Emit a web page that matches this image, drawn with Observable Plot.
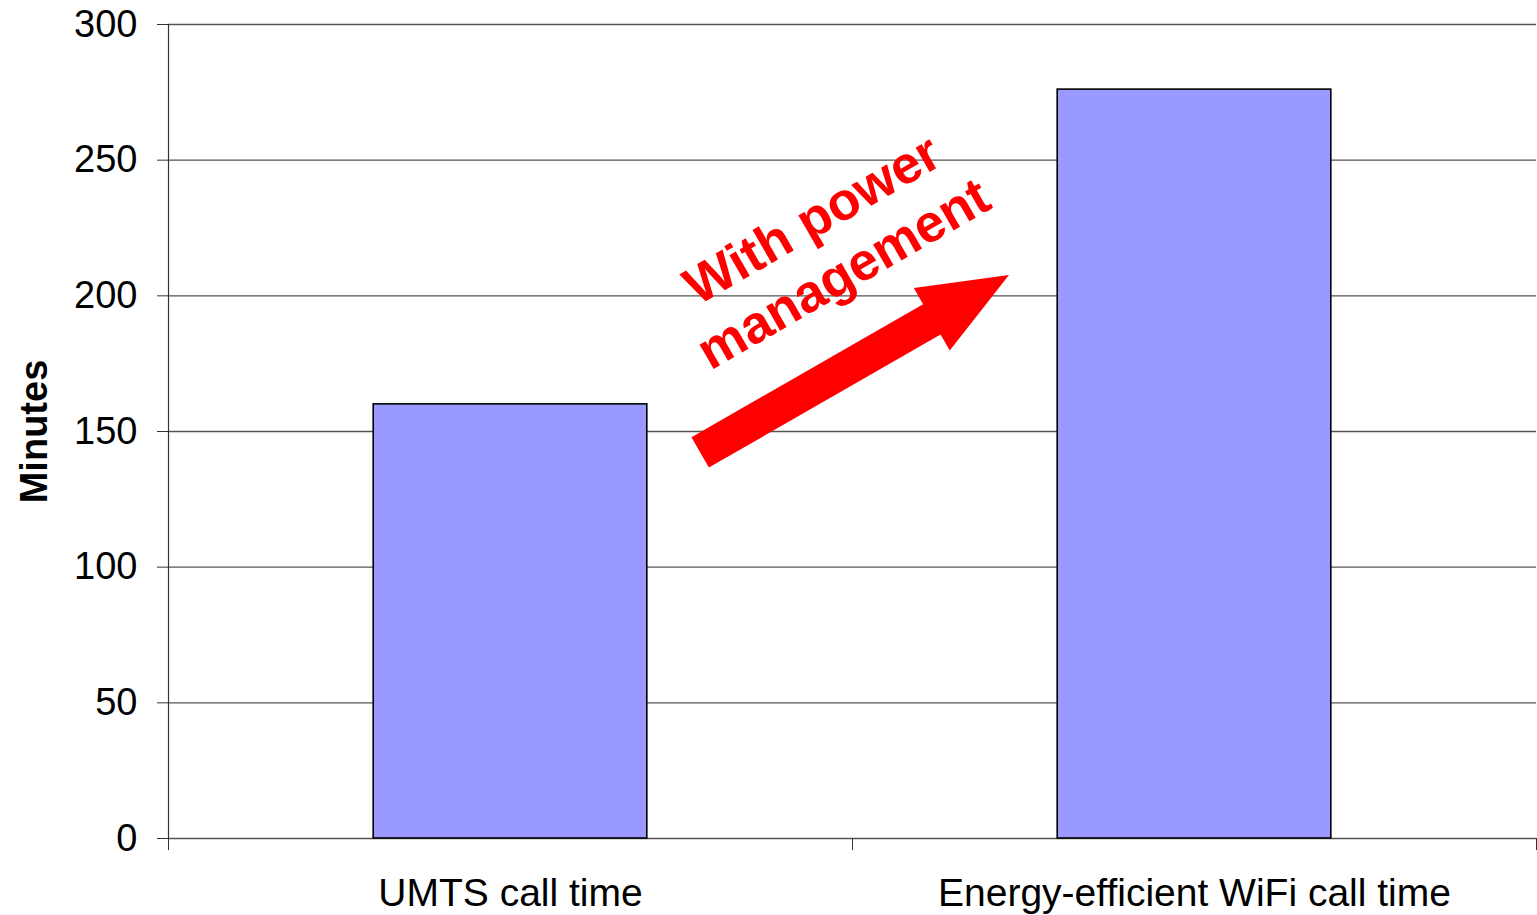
<!DOCTYPE html>
<html>
<head>
<meta charset="utf-8">
<script src="https://cdn.jsdelivr.net/npm/d3@7"></script>
<script src="https://cdn.jsdelivr.net/npm/@observablehq/plot@0.6"></script>
<style>
  html, body { margin: 0; padding: 0; background: #fff; }
  #chart svg { display: block; font-family: "Liberation Sans", Arial, sans-serif; }
</style>
</head>
<body>
<div id="chart"></div>
<script>
// ---- data ----
const categories = ["UMTS call time", "Energy-efficient WiFi call time"];
const minutes = [160, 276];
const yTicks = [0, 50, 100, 150, 200, 250, 300];
const yLabel = "Minutes";
const annotationLines = ["With power", "management"];
// annotation positions in data units (x: category slot units, y: minutes)
const annotationAt = [0.962, 218.9];
const arrowStart = [0.778, 142.1];
const arrowEnd = [1.2295, 207.5];

const FONT = "Liberation Sans, Arial, sans-serif";

const rows = minutes.map((v, i) => ({category: categories[i], value: v, i}));

function arrowMark(index, scales) {
  const sx = scales.x, sy = scales.y;
  const tx = sx(arrowStart[0]), ty = sy(arrowStart[1]);
  const px = sx(arrowEnd[0]), py = sy(arrowEnd[1]);
  const len = Math.hypot(px - tx, py - ty);
  const ux = (px - tx) / len, uy = (py - ty) / len;
  const nx = -uy, ny = ux;
  const shaftHalf = 17.5, headHalf = 36, headLen = 89;
  const bx = px - ux * headLen, by = py - uy * headLen;
  const pts = [
    [tx + nx * shaftHalf, ty + ny * shaftHalf],
    [bx + nx * shaftHalf, by + ny * shaftHalf],
    [bx + nx * headHalf, by + ny * headHalf],
    [px, py],
    [bx - nx * headHalf, by - ny * headHalf],
    [bx - nx * shaftHalf, by - ny * shaftHalf],
    [tx - nx * shaftHalf, ty - ny * shaftHalf]
  ];
  const poly = document.createElementNS("http://www.w3.org/2000/svg", "polygon");
  poly.setAttribute("points", pts.map(p => p.join(",")).join(" "));
  poly.setAttribute("fill", "#FF0000");
  return poly;
}

const chart = Plot.plot({
  width: 1537,
  height: 915,
  marginLeft: 168,
  marginRight: 1,
  marginTop: 24,
  marginBottom: 77,
  style: {fontFamily: FONT, background: "#fff", color: "#000"},
  x: {type: "linear", domain: [0, categories.length]},
  y: {domain: [0, 300]},
  marks: [
    Plot.ruleY(yTicks, {stroke: "#555", strokeWidth: 1.3}),
    Plot.rectY(rows, {
      x1: d => d.i + 0.3,
      x2: d => d.i + 0.7,
      y1: 0,
      y2: "value",
      fill: "#9999FF",
      stroke: "#000",
      strokeWidth: 1.6
    }),
    Plot.ruleX([0], {y1: 0, y2: 300, stroke: "#333", strokeWidth: 1.2}),
    Plot.axisY({
      ticks: yTicks,
      tickSize: 11,
      tickPadding: 20,
      fontSize: 38,
      label: null,
      stroke: "#333",
      fill: "#000",
      tickFormat: d => String(d)
    }),
    Plot.axisX({
      ticks: d3.range(categories.length + 1),
      tickSize: 12,
      tickFormat: () => "",
      label: null,
      stroke: "#333"
    }),
    Plot.axisX({
      ticks: categories.map((c, i) => i + 0.5),
      tickSize: 0,
      tickPadding: 40,
      fontSize: 39,
      label: null,
      fill: "#000",
      tickFormat: d => categories[Math.floor(d)]
    }),
    arrowMark,
    Plot.text([annotationLines.join("\n")], {
      x: () => annotationAt[0],
      y: () => annotationAt[1],
      text: d => d,
      rotate: -30,
      fontSize: 53,
      fontWeight: "bold",
      lineHeight: 1.18,
      fill: "#FF0000",
      textAnchor: "middle"
    }),
    Plot.text([yLabel], {
      frameAnchor: "left",
      textAnchor: "middle",
      dx: -134,
      rotate: -90,
      fontSize: 38,
      fontWeight: "bold",
      fill: "#000",
      text: d => d
    })
  ]
});

document.getElementById("chart").appendChild(chart);
</script>
</body>
</html>
